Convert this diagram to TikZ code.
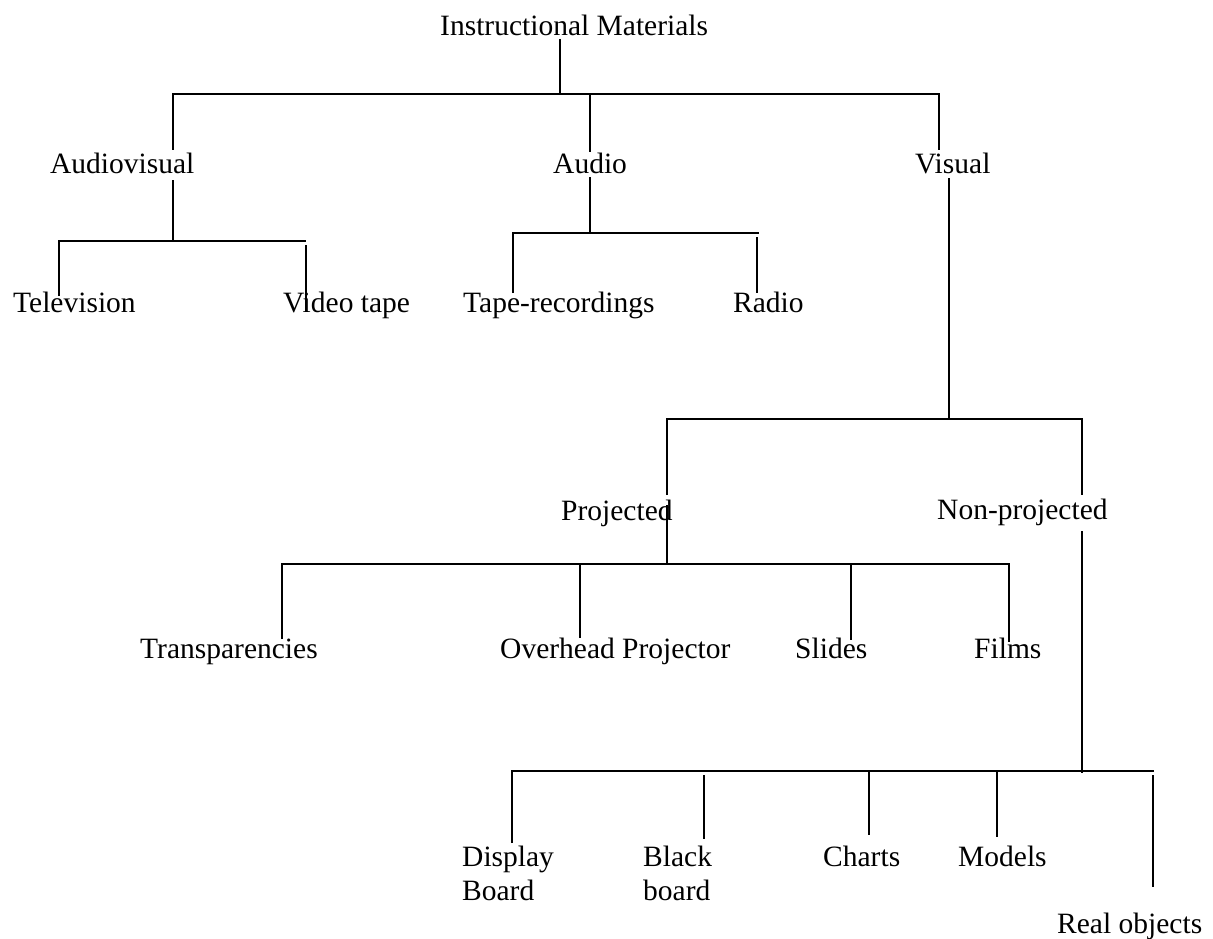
\documentclass[tikz,border=0pt]{standalone}
\usepackage{fontspec}
\setmainfont{Liberation Serif}
\begin{document}
\begin{tikzpicture}[x=1pt,y=-1pt,
  item/.style={inner sep=0pt, anchor=base west, font=\fontsize{29.5}{33}\selectfont},
  twoline/.style={item, align=left, anchor=north west},
  wire/.style={line width=2pt, line cap=butt, line join=miter}]
\useasboundingbox (0,0) rectangle (1213,939);

% ---------- labels ----------
\node[item] (im)  at (440,36)  {Instructional Materials};
\node[item] (av)  at (50,173)  {Audiovisual};
\node[item] (au)  at (553,173) {Audio};
\node[item] (vi)  at (915,174) {Visual};
\node[item] (tv)  at (13,312)  {Television};
\node[item] (vt)  at (283,312) {Video tape};
\node[item] (tr)  at (463,312) {Tape-recordings};
\node[item] (ra)  at (733,312) {Radio};
\node[item] (pr)  at (561,520) {Projected};
\node[item] (np)  at (937,519) {Non-projected};
\node[item] (tp)  at (140,658) {Transparencies};
\node[item] (oh)  at (500,658) {Overhead Projector};
\node[item] (sl)  at (795,658) {Slides};
\node[item] (fi)  at (974,658) {Films};
\node[item] (db)  at (462,866) {Display};
\node[item] (db2) at (462,900) {Board};
\node[item] (bb)  at (643,866) {Black};
\node[item] (bb2) at (643,900) {board};
\node[item] (ch)  at (823,866) {Charts};
\node[item] (mo)  at (958,866) {Models};
\node[item] (ro)  at (1057,933) {Real objects};

% ---------- junction points ----------
\coordinate (im-s)  at (560,39);
\coordinate (im-j)  at (560,94);
\coordinate (av-n)  at (173,150);
\coordinate (av-j)  at (173,94);
\coordinate (vi-j)  at (939,94);
\coordinate (vi-n)  at (939,150);
\coordinate (au-j)  at (590,94);
\coordinate (au-n)  at (590,152);

\coordinate (av-s)  at (173,180);
\coordinate (av-b)  at (173,241);
\coordinate (tv-j)  at (59,241);
\coordinate (tv-n)  at (59,296);
\coordinate (vt-j)  at (306,241);
\coordinate (vt-t)  at (306,245);
\coordinate (vt-n)  at (306,312);

\coordinate (au-s)  at (590,177);
\coordinate (au-b)  at (590,233);
\coordinate (tr-j)  at (513,233);
\coordinate (tr-n)  at (513,293);
\coordinate (ra-j)  at (759,233);
\coordinate (ra-t)  at (757,237);
\coordinate (ra-n)  at (757,293);

\coordinate (vi-s)  at (949,178);
\coordinate (vi-b)  at (949,419);
\coordinate (pr-j)  at (667,419);
\coordinate (pr-n)  at (667,495);
\coordinate (np-j)  at (1082,419);
\coordinate (np-n)  at (1082,495);

\coordinate (pr-s)  at (667,505);
\coordinate (pr-b)  at (667,564);
\coordinate (tp-j)  at (282,564);
\coordinate (tp-n)  at (282,639);
\coordinate (fi-j)  at (1009,564);
\coordinate (fi-n)  at (1009,642);
\coordinate (oh-j)  at (580,564);
\coordinate (oh-n)  at (580,638);
\coordinate (sl-j)  at (851,564);
\coordinate (sl-n)  at (851,640);

\coordinate (np-s)  at (1082,531);
\coordinate (np-b)  at (1082,773);
\coordinate (db-j)  at (512,771);
\coordinate (db-n)  at (512,843);
\coordinate (ro-j)  at (1154,771);
\coordinate (bb-t)  at (704,775);
\coordinate (bb-n)  at (704,839);
\coordinate (ch-j)  at (869,771);
\coordinate (ch-n)  at (869,835);
\coordinate (mo-j)  at (997,771);
\coordinate (mo-n)  at (997,837);
\coordinate (ro-t)  at (1153,775);
\coordinate (ro-n)  at (1153,887);

% ---------- connectors ----------
\draw[wire] (im-s) -- (im-j);
\draw[wire] (av-n) -- (av-j) -- (vi-j) -- (vi-n);
\draw[wire] (au-j) -- (au-n);

\draw[wire] (av-s) -- (av-b);
\draw[wire] (tv-n) -- (tv-j) -- (vt-j);
\draw[wire] (vt-t) -- (vt-n);

\draw[wire] (au-s) -- (au-b);
\draw[wire] (tr-n) -- (tr-j) -- (ra-j);
\draw[wire] (ra-t) -- (ra-n);

\draw[wire] (vi-s) -- (vi-b);
\draw[wire] (pr-n) -- (pr-j) -- (np-j) -- (np-n);

\draw[wire] (pr-s) -- (pr-b);
\draw[wire] (tp-n) -- (tp-j) -- (fi-j) -- (fi-n);
\draw[wire] (oh-j) -- (oh-n);
\draw[wire] (sl-j) -- (sl-n);

\draw[wire] (np-s) -- (np-b);
\draw[wire] (db-n) -- (db-j) -- (ro-j);
\draw[wire] (bb-t) -- (bb-n);
\draw[wire] (ch-j) -- (ch-n);
\draw[wire] (mo-j) -- (mo-n);
\draw[wire] (ro-t) -- (ro-n);
\end{tikzpicture}
\end{document}
